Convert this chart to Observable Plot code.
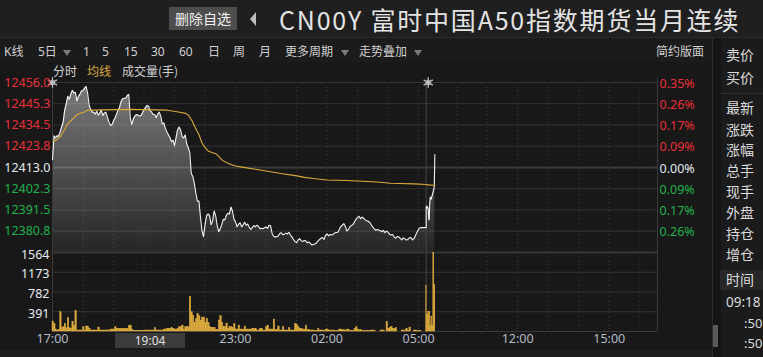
<!DOCTYPE html>
<html><head><meta charset="utf-8">
<script src="https://cdn.jsdelivr.net/npm/d3@7"></script>
<script src="https://cdn.jsdelivr.net/npm/@observablehq/plot@0.6"></script>
<style>
html,body{margin:0;padding:0;background:#181818;}
#root{position:relative;width:763px;height:357px;overflow:hidden;background:#181818;font-family:"Noto Sans","Noto Sans CJK SC",sans-serif;color:#d8d8d8;}
.a{position:absolute;white-space:nowrap;}
.tb{font-size:12px;line-height:16px;top:44px;color:#d0d0d0;}
.tri{position:absolute;width:0;height:0;border-left:4px solid transparent;border-right:4px solid transparent;border-top:6px solid #7a7a7a;top:50px;}
.rp{font-size:14px;line-height:18px;left:726px;color:#dcdcdc;}
svg{overflow:visible;}
</style></head>
<body><div id="root">
  <div class="a" style="left:0;top:0;width:763px;height:37px;background:#1f1f1f;border-bottom:1px solid #2b2b2b;"></div>
  <div class="a" style="left:169px;top:7px;width:68px;height:23px;background:#4d4d4d;color:#f0f0f0;font-size:14px;line-height:23px;text-align:center;font-family:'Noto Sans CJK SC';">删除自选</div>
  <div class="a" style="left:250px;top:12px;width:0;height:0;border-top:7px solid transparent;border-bottom:7px solid transparent;border-right:6px solid #bdbdbd;"></div>
  <div class="a" id="title" style="left:279px;top:3px;font-size:25px;letter-spacing:1.8px;line-height:32px;color:#e4e4e4;font-family:'Noto Sans CJK SC';">CN00Y 富时中国A50指数期货当月连续</div>

  <div class="a" style="left:0;top:38px;width:713px;height:24px;background:#1b1b1b;"></div>
  <div class="a tb" style="left:4px">K线</div>
  <div class="a tb" style="left:38px">5日</div><div class="tri" style="left:63px"></div>
  <div class="a tb" style="left:83px">1</div>
  <div class="a tb" style="left:102px">5</div>
  <div class="a tb" style="left:124px">15</div>
  <div class="a tb" style="left:151px">30</div>
  <div class="a tb" style="left:179px">60</div>
  <div class="a tb" style="left:208px">日</div>
  <div class="a tb" style="left:233px">周</div>
  <div class="a tb" style="left:259px">月</div>
  <div class="a tb" style="left:285px">更多周期</div><div class="tri" style="left:341px"></div>
  <div class="a tb" style="left:359px">走势叠加</div><div class="tri" style="left:414px"></div>
  <div class="a tb" style="left:656px">简约版面</div>

  <div class="a" style="left:713px;top:38px;width:50px;height:319px;background:#1b1b1b;"></div>
  <div class="a" style="left:712px;top:38px;width:8px;height:319px;background:#141414;border-left:1px solid #2c2c2c;"></div>
  <div class="a" style="left:713px;top:325px;width:5px;height:22px;background:#5a5a5a;"></div>
  <div class="a" style="left:720px;top:93px;width:43px;height:1px;background:#2e2e2e;"></div>
  <div class="a" style="left:720px;top:270px;width:43px;height:20px;background:#272727;"></div>
  <div class="a rp" style="top:46px">卖价</div>
  <div class="a rp" style="top:69px">买价</div>
  <div class="a rp" style="top:99px">最新</div>
  <div class="a rp" style="top:121px">涨跌</div>
  <div class="a rp" style="top:141px">涨幅</div>
  <div class="a rp" style="top:162px">总手</div>
  <div class="a rp" style="top:183px">现手</div>
  <div class="a rp" style="top:204px">外盘</div>
  <div class="a rp" style="top:225px">持仓</div>
  <div class="a rp" style="top:246px">增仓</div>
  <div class="a rp" style="top:271px">时间</div>
  <div class="a rp" style="top:293px;left:726px;font-size:13.5px">09:18</div>
  <div class="a rp" style="top:314px;left:744px;font-size:13px">:50</div>
  <div class="a rp" style="top:334px;left:744px;font-size:13px">:50</div>

  <div class="a" style="left:0;top:350px;width:712px;height:7px;background:#1f1f1f;"></div>

  <div class="a" style="left:53px;top:63px;font-size:12px;line-height:16px;font-family:'Noto Sans CJK SC';"><span style="color:#d0d0d0">分时</span><span style="color:#d9aa3c;margin-left:10px">均线</span><span style="color:#d0d0d0;margin-left:11px">成交量(手)</span></div>

  <div class="a" id="price" style="left:0;top:62px;"></div>
  <div class="a" id="vol" style="left:0;top:242px;"></div>
  <div class="a" id="cursor" style="top:333px;width:70px;height:15px;background:#3b3b3b;color:#e0e0e0;font-size:12px;line-height:15px;text-align:center;"></div>
</div>
<script>
// ---- data ----
const prevSettle = 12413.0;
const priceTicks = [12456.0, 12445.3, 12434.5, 12423.8, 12413.0, 12402.3, 12391.5, 12380.8];
const pctLabels = ["0.35%", "0.26%", "0.17%", "0.09%", "0.00%", "0.09%", "0.17%", "0.26%"];
const volTicks = [1564, 1173, 782, 391];
const timeTickTimes = ["17:00", "23:00", "02:00", "05:00", "12:00", "15:00"];
const hourTimes = ["18:00","19:00","20:00","21:00","22:00","23:00","00:00","01:00","02:00","03:00","04:00","05:00","10:00","11:00","12:00","13:00","14:00","15:00","16:00"];
const cursorTime = "19:04";
const markerTimes = ["17:00", "09:04"];

// night session 17:00 - 05:15, one value every 3 minutes
const nightStep = 3;
const nightPrice = [
 12417,12429,12428,12429,12428.8,12431,12433.5,12436,12442,12445,
 12449,12447.5,12450,12452,12450.8,12451,12446.6,12449,12450,12451.7,
 12452,12453,12454,12450.8,12444.5,12442.4,12441,12441,12440,12441.5,
 12439.5,12440.5,12442,12439.3,12440.5,12441,12438.5,12436,12434.3,12434.6,
 12436.5,12438,12440,12442,12443.5,12446.4,12447.8,12448,12448,12449.3,
 12450,12438,12434.8,12437.5,12439,12439.8,12439.5,12439,12439.3,12440.7,
 12442.2,12443.3,12444.4,12444,12441.8,12441,12439.8,12439.8,12438.2,12440,
 12441,12439,12435,12435.5,12432.8,12431,12429.6,12428.2,12426,12426.8,
 12424,12428,12432,12433.5,12432,12428.5,12428,12429.5,12425,12423,
 12420.5,12410,12408.4,12405,12400,12396,12396,12388,12381,12378,
 12384,12388.5,12389.5,12388.5,12384,12386,12391,12388.5,12383.5,12380.5,
 12382,12384.2,12386.8,12386.5,12388.8,12389.8,12389.5,12393,12391,12386.6,
 12385.5,12383,12384.3,12385,12383,12384,12385.3,12383.8,12384.4,12382.7,
 12381.7,12382.6,12383.6,12383,12383.8,12383.2,12382,12382.3,12382,12382.5,
 12382.9,12382.2,12383.8,12383.5,12379.5,12378.2,12377.7,12378.1,12378.3,12379.6,
 12380,12379,12379.2,12379.8,12379.4,12380.2,12378.8,12377.9,12376.6,12375.5,
 12375,12376.2,12377,12376,12375.5,12376.1,12375.9,12374.9,12375.3,12374.6,
 12373.8,12374,12374.3,12374.8,12375.8,12376.5,12377.2,12377.6,12376.6,12378.7,
 12379.4,12378.4,12379.1,12378.9,12379.1,12379.9,12380.1,12380.2,12381.5,12383.1,
 12383.8,12384.6,12383.2,12380.9,12381.6,12383,12383.6,12384.2,12385.4,12386.8,
 12387.7,12388.3,12387.1,12387.9,12387.3,12386.5,12386.1,12385.8,12385.2,12384,
 12382.8,12382,12381.2,12381.6,12381.3,12381,12380.5,12381.2,12380,12380.8,
 12380.3,12379.2,12378.8,12379.1,12377.8,12377.2,12378.1,12377.9,12377.1,12376.4,
 12377.4,12377,12376.3,12376.6,12377.4,12377.6,12376.3,12377,12378.6,12380.3,
 12381.8,12382.5,12382.6,12382.6,12382.6,12382.6
];
const nightVolume = [
 197,150,40,20,30,381,66,85,151,66,
 263,66,53,184,105,400,20,20,20,20,
 85,20,99,99,53,20,20,20,20,20,
 79,20,20,20,20,20,20,20,39,39,
 39,85,53,53,53,53,53,53,53,53,
 105,118,39,15,15,15,15,15,15,15,
 15,20,20,20,20,20,20,66,20,20,
 20,20,20,39,39,53,53,53,66,53,
 39,39,53,85,85,118,39,85,85,85,
 690,381,315,171,250,348,302,217,276,276,
 171,250,171,85,72,72,72,33,33,217,
 302,171,85,85,158,53,85,85,66,145,
 39,39,118,39,39,39,99,39,39,39,
 39,53,53,53,20,20,53,53,20,20,
 85,118,39,39,39,237,30,30,99,20,
 20,85,20,20,20,66,20,20,20,151,
 131,85,53,53,39,39,118,30,30,20,
 20,20,10,10,53,20,20,20,10,39,
 39,20,20,20,20,10,10,10,39,39,
 26,26,10,39,26,10,10,10,53,85,
 39,26,26,10,10,10,10,10,10,20,
 20,10,0,0,0,20,20,20,0,184,
 53,66,92,53,53,66,0,0,0,20,
 20,20,53,10,79,0,0,20,20,10,
 10,10,0,0,0
];
// day session from 09:00, one value per minute
const dayStart = "09:00";
const dayPrice = [12393,12393.5,12392.5,12393,12392,12387,12386.5,12395,12398,12397.5,12397,12398,12399,12400,12401,12402,12403.5,12419.5];
const dayVolume = [906,335,335,335,381,381,394,394,105,105,296,296,118,118,1550,1550,920,920];

const avgTimes = ["17:01","17:09","17:16","17:22","17:29","17:35","17:42","17:49","17:55","18:02","18:08","18:15","19:33","20:46","21:05","21:22","21:28","21:35","21:41","21:48","21:54","22:01","22:07","22:21","22:27","22:34","22:47","23:00","23:13","23:39","00:06","00:32","00:58","01:16","01:34","02:00","02:40","03:39","04:05","04:51","05:15","09:02","09:17"];
const avgValues = [12426.2,12427.1,12428.8,12431.3,12434.8,12436.4,12438.1,12439.8,12440.4,12441,12441.9,12442,12442.4,12442,12441.2,12440.4,12439.3,12436.4,12433,12429.7,12425.4,12422.8,12421.2,12420,12418.6,12416.6,12414.9,12413.8,12413.2,12412.1,12411,12409.8,12408.9,12408,12407.4,12406.7,12406.4,12405.7,12405,12404.7,12404.4,12404.2,12404];

// ---- session index: 17:00-05:15 then 09:00-16:35 ----
const toIdx = t => { const [h, m] = t.split(":").map(Number);
  if (h >= 17) return (h - 17) * 60 + m;
  if (h < 9) return (h + 7) * 60 + m;
  return 735 + (h - 9) * 60 + m; };
const X_END = toIdx("16:35");
const dayIdx0 = toIdx(dayStart);

const priceData = nightPrice.map((p, k) => ({i: k * nightStep, p}))
  .concat(dayPrice.map((p, k) => ({i: dayIdx0 + k, p})));
const avgData = avgTimes.map((t, k) => ({i: toIdx(t), v: avgValues[k]}));
const volData = nightVolume.map((v, k) => ({i1: k * nightStep, i2: k * nightStep + nightStep, v}))
  .concat(dayVolume.map((v, k) => ({i1: dayIdx0 + k, i2: dayIdx0 + k + 1, v})));

const yMin = 12370, yMax = 12456;
const RED = "#ea2f38", GREEN = "#1fb14c", WHITE = "#e2e8ee", GRID = "#333333";
const FONT = '"Noto Sans","Noto Sans CJK SC",sans-serif';
const hourIdx = hourTimes.map(toIdx);
const sessionBreak = dayIdx0;

const gradient = () => {
  const g = d3.create("svg:g");
  const lg = g.append("defs").append("linearGradient").attr("id", "pg")
    .attr("x1", 0).attr("y1", 0).attr("x2", 0).attr("y2", 1);
  lg.append("stop").attr("offset", "0%").attr("stop-color", "#ffffff").attr("stop-opacity", 0.42);
  lg.append("stop").attr("offset", "100%").attr("stop-color", "#ffffff").attr("stop-opacity", 0.06);
  return g.node();
};

const redT = priceTicks.filter(d => d > prevSettle), greenT = priceTicks.filter(d => d < prevSettle);
const pctOf = d => pctLabels[priceTicks.indexOf(d)];

const price = Plot.plot({
  width: 713, height: 190, marginLeft: 52, marginRight: 56, marginTop: 20, marginBottom: 0,
  x: {domain: [0, X_END], axis: null},
  y: {domain: [yMin, yMax], axis: null},
  style: {background: "transparent", fontFamily: FONT, fontSize: "12px", overflow: "visible"},
  marks: [
    Plot.ruleY(priceTicks.filter(d => d !== prevSettle), {stroke: GRID, strokeWidth: 1}),
    Plot.ruleY([prevSettle], {stroke: "#3c3c3c", strokeWidth: 2}),
    Plot.ruleX(hourIdx, {stroke: "#3a3a3a", strokeDasharray: "1,3", y1: d => yMin, y2: d => 12454.5}),
    gradient,
    Plot.areaY(priceData, {x: "i", y1: d => yMin, y2: "p", fill: "url(#pg)"}),
    Plot.ruleX([0, X_END], {stroke: "#3a3a3a", y1: d => yMin, y2: d => 12458.5}),
    Plot.ruleX([sessionBreak], {stroke: "#454545", y1: d => yMin, y2: d => yMax}),
    Plot.line(priceData, {x: "i", y: "p", stroke: "#f2f2f2", strokeWidth: 1.1}),
    Plot.line(avgData, {x: "i", y: "v", stroke: "#d9a93a", strokeWidth: 1.1}),
    Plot.dot(markerTimes, {x: d => toIdx(d), y: d => yMax, r: 2.6, fill: "#bdbdbd", stroke: null}),
    Plot.dot(markerTimes, {x: d => toIdx(d), y: d => yMax, r: 5, symbol: "asterisk", stroke: "#bdbdbd", strokeWidth: 1.3}),
    Plot.axisY(redT, {anchor: "left", tickSize: 0, tickPadding: 2, color: RED, label: null, fontSize: 12.5, tickFormat: d => d.toFixed(1)}),
    Plot.axisY([prevSettle], {anchor: "left", tickSize: 0, tickPadding: 2, color: WHITE, label: null, fontSize: 12.5, tickFormat: d => d.toFixed(1)}),
    Plot.axisY(greenT, {anchor: "left", tickSize: 0, tickPadding: 2, color: GREEN, label: null, fontSize: 12.5, tickFormat: d => d.toFixed(1)}),
    Plot.axisY(redT, {anchor: "right", tickSize: 0, tickPadding: 2, dy: 1, color: RED, label: null, fontSize: 12.5, tickFormat: pctOf}),
    Plot.axisY([prevSettle], {anchor: "right", tickSize: 0, tickPadding: 2, dy: 1, color: WHITE, label: null, fontSize: 12.5, tickFormat: pctOf}),
    Plot.axisY(greenT, {anchor: "right", tickSize: 0, tickPadding: 2, dy: 1, color: GREEN, label: null, fontSize: 12.5, tickFormat: pctOf})
  ]
});
document.getElementById("price").append(price);

const vol = Plot.plot({
  width: 713, height: 108, marginLeft: 52, marginRight: 56, marginTop: 10, marginBottom: 19,
  x: {domain: [0, X_END], axis: null},
  y: {domain: [0, 1564], axis: null},
  style: {background: "transparent", fontFamily: FONT, fontSize: "12px", overflow: "visible"},
  marks: [
    Plot.ruleY(volTicks.slice(1), {stroke: GRID}),
    Plot.ruleY([volTicks[0]], {stroke: "#363636", strokeWidth: 2}),
    Plot.ruleY([0], {stroke: "#3a3a3a"}),
    Plot.ruleX(hourIdx, {stroke: "#3a3a3a", strokeDasharray: "1,3"}),
    Plot.ruleX([0, X_END], {stroke: "#3a3a3a"}),
    Plot.ruleX([sessionBreak], {stroke: "#454545"}),
    Plot.rect(volData, {x1: "i1", x2: "i2", y1: d => 0, y2: "v", fill: "#dcab3e", stroke: "#dcab3e", strokeWidth: 0.4}),
    Plot.axisY(volTicks, {anchor: "left", tickSize: 0, tickPadding: 3, dy: 2, color: "#e6ebf0", label: null, fontSize: 12.5, tickFormat: d => String(d)}),
    Plot.axisX(timeTickTimes.map(toIdx), {anchor: "bottom", tickSize: 0, tickPadding: 3, color: "#b4bcc6", label: null, fontSize: 12.5,
      tickFormat: d => timeTickTimes[timeTickTimes.map(toIdx).indexOf(d)]})
  ]
});
document.getElementById("vol").append(vol);

const cx = price.scale("x").apply(toIdx(cursorTime));
const cur = document.getElementById("cursor");
cur.style.left = cx + "px";
cur.textContent = cursorTime;
</script>
</body></html>
